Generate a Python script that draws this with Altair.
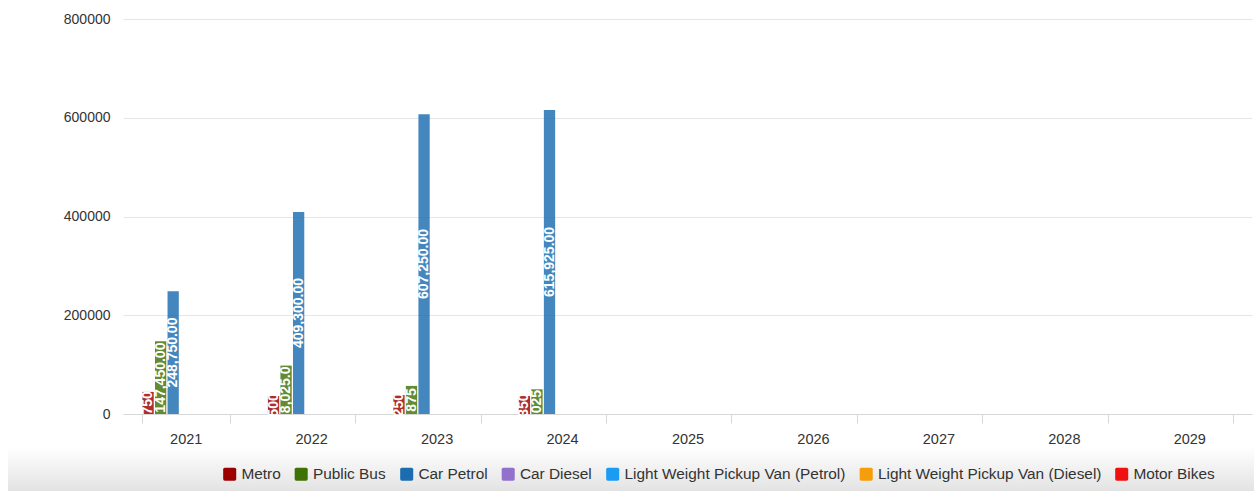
import altair as alt
import pandas as pd

years = ["2021", "2022", "2023", "2024", "2025", "2026", "2027", "2028", "2029"]
series = ["Metro", "Public Bus", "Car Petrol", "Car Diesel",
          "Light Weight Pickup Van (Petrol)", "Light Weight Pickup Van (Diesel)", "Motor Bikes"]
colors = ["#9b0000", "#3f7205", "#1b6cb0", "#9370cc", "#1a9cf5", "#f59d0a", "#f01010"]

metro = [44750, 36500, 38250, 36350, 0, 0, 0, 0, 0]
public_bus = [147450, 98025, 56875, 50025, 0, 0, 0, 0, 0]
car_petrol = [248750, 409300, 607250, 615925, 0, 0, 0, 0, 0]
car_diesel = [0, 0, 0, 0, 0, 0, 0, 0, 0]
lw_petrol = [0, 0, 0, 0, 0, 0, 0, 0, 0]
lw_diesel = [0, 0, 0, 0, 0, 0, 0, 0, 0]
motor_bikes = [0, 0, 0, 0, 0, 0, 0, 0, 0]

# visible (clipped) value labels as they appear on the bars
metro_labels = ["750", "500", "250", "350", "", "", "", "", ""]
bus_labels = ["147,450.00", "8,025.0", "875", "025", "", "", "", "", ""]
petrol_labels = ["248,750.00", "409,300.00", "607,250.00", "615,925.00", "", "", "", "", ""]
empty_labels = [""] * 9

y_ticks = [0, 200000, 400000, 600000, 800000]

values = [metro, public_bus, car_petrol, car_diesel, lw_petrol, lw_diesel, motor_bikes]
labels = [metro_labels, bus_labels, petrol_labels, empty_labels, empty_labels, empty_labels, empty_labels]

rows = []
for s, vals, labs in zip(series, values, labels):
    for y, v, l in zip(years, vals, labs):
        rows.append({"year": y, "series": s, "value": v, "label": l})
df = pd.DataFrame(rows)

FONT = "Liberation Sans"

x_enc = alt.X("year:N", sort=years, title=None,
              scale=alt.Scale(paddingInner=0.3, paddingOuter=0.15),
              axis=alt.Axis(labelAngle=0, labelFontSize=14.5, labelColor="#333333", labelFont=FONT,
                            domainColor="#d8d8d8", tickColor="#d8d8d8", tickSize=9,
                            tickBand="extent", labelPadding=9, grid=False))
xoff_enc = alt.XOffset("series:N", sort=series, scale=alt.Scale(paddingInner=0.1, paddingOuter=0.05))

bg = alt.Chart(pd.DataFrame({"a": [0]})).mark_rect(
    fill=alt.Gradient(gradient="linear",
                      stops=[alt.GradientStop(color="#ffffff", offset=0),
                             alt.GradientStop(color="#e3e3e3", offset=1)],
                      x1=0, x2=0, y1=0, y2=1)
).encode(x=alt.value(-115), x2=alt.value(1131), y=alt.value(428), y2=alt.value(472))

bars = alt.Chart(df).mark_bar(opacity=0.82).encode(
    x=x_enc,
    xOffset=xoff_enc,
    y=alt.Y("value:Q", title=None,
            scale=alt.Scale(domain=[0, 800000], nice=False),
            axis=alt.Axis(values=y_ticks, format="d", labelFontSize=14, labelColor="#333333",
                          labelFont=FONT, labelPadding=13, ticks=False, domain=False,
                          gridColor="#e6e6e6", gridWidth=1)),
    color=alt.Color("series:N", sort=series, scale=alt.Scale(domain=series, range=colors),
                    legend=alt.Legend(orient="none", legendX=99, legendY=447, direction="horizontal",
                                      title=None, labelFontSize=15.4, labelColor="#333333",
                                      labelFont=FONT, labelOffset=4, columnPadding=12.5,
                                      symbolType="M -0.75,-1 L 0.75,-1 Q 1,-1 1,-0.75 L 1,0.75 Q 1,1 0.75,1 L -0.75,1 Q -1,1 -1,0.75 L -1,-0.75 Q -1,-1 -0.75,-1 Z",
                                      symbolSize=170, symbolStrokeWidth=0, symbolOpacity=1,
                                      labelLimit=400)),
)

texts = alt.Chart(df).transform_filter("datum.label != ''").transform_calculate(
    mid="datum.value / 2"
).mark_text(angle=270, color="white", fontSize=14, fontWeight="bold", font=FONT,
            align="center", baseline="middle").encode(
    x=alt.X("year:N", sort=years),
    xOffset=alt.XOffset("series:N", sort=series),
    y=alt.Y("mid:Q"),
    text="label:N",
)

chart = alt.layer(bg, bars, texts).properties(
    width=1129, height=395,
    autosize=alt.AutoSizeParams(type="none"),
    padding={"left": 123, "top": 19, "right": 2, "bottom": 77},
    background="white",
).configure_view(stroke=None)

chart.save("out.html", embed_options={"renderer": "svg", "actions": False})
